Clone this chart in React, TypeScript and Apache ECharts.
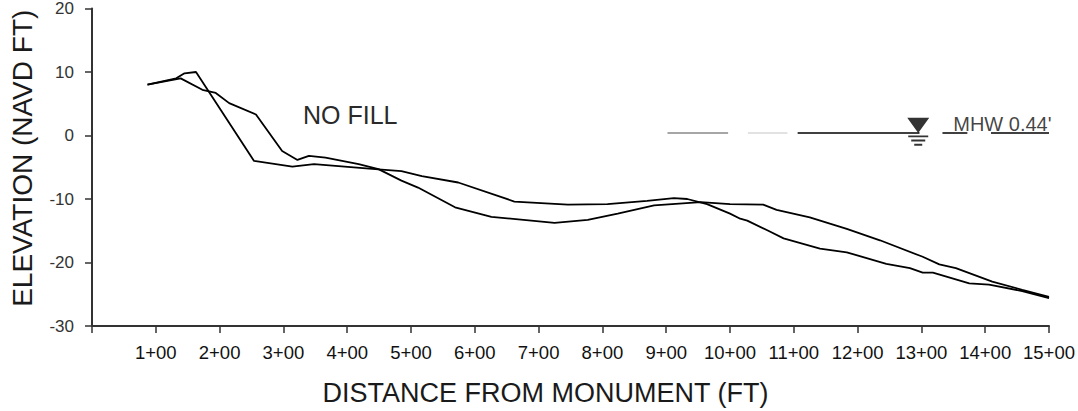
import React, { useEffect, useRef } from "react";
import * as echarts from "echarts";

// Profile A (steep drop near 2+00)
const profileAX = [87, 132, 145, 163, 254, 314, 348, 444, 485, 517, 574, 662, 746, 808, 870, 912, 933, 964, 1000, 1016, 1027, 1060, 1084, 1141, 1183, 1245, 1282, 1302, 1318, 1375, 1406, 1458, 1500];
const profileAY = [8.0, 9.0, 9.8, 10.0, -4.0, -4.9, -4.5, -5.3, -5.6, -6.4, -7.4, -10.4, -10.9, -10.8, -10.3, -9.85, -10.0, -10.8, -12.3, -13.1, -13.4, -15.0, -16.2, -17.8, -18.4, -20.2, -20.9, -21.6, -21.6, -23.3, -23.5, -24.5, -25.6];

// Profile B (gradual slope)
const profileBX = [87, 139, 173, 194, 215, 257, 298, 322, 340, 366, 418, 449, 485, 511, 569, 626, 725, 777, 824, 881, 954, 1000, 1052, 1073, 1125, 1183, 1235, 1302, 1328, 1354, 1411, 1458, 1500];
const profileBY = [8.0, 9.0, 7.2, 6.7, 5.1, 3.3, -2.45, -3.85, -3.2, -3.5, -4.5, -5.3, -7.1, -8.2, -11.3, -12.8, -13.75, -13.3, -12.3, -11.0, -10.5, -10.8, -10.9, -11.7, -12.9, -14.7, -16.5, -19.1, -20.3, -20.9, -23.0, -24.3, -25.4];

// Mean high water
const mhwLevel = 0.44;
const mhwBlackSegments = [[1106, 1297], [1333, 1372], [1409, 1500]];
const mhwGraySegments = [[902, 997]];
const mhwFaintSegments = [[1028, 1090]];
const mhwSymbolX = 1295;

const yTicks = { min: -30, max: 20, interval: 10 };
const xTicks = { min: 0, max: 1500, interval: 100 };

const FONT = "'Liberation Sans', Arial, sans-serif";

export default function App() {
  const ref = useRef<HTMLDivElement>(null);

  useEffect(() => {
    document.body.style.margin = "0";
    const chart = echarts.init(ref.current!, null, { renderer: "svg" });
    const seg = (s: number[][]) => s.map(([a, b]) => ({ coords: [[a, mhwLevel], [b, mhwLevel]] }));
    const option: any = {
      animation: false,
      backgroundColor: "#ffffff",
      grid: { left: 89, right: 28, top: 8, bottom: 84 },
      xAxis: {
        type: "value",
        min: xTicks.min,
        max: xTicks.max,
        interval: xTicks.interval,
        name: "DISTANCE FROM MONUMENT (FT)",
        nameLocation: "middle",
        nameGap: 53,
        nameTextStyle: { fontSize: 27, color: "#1a1a1a", fontFamily: FONT, padding: [0, 50, 0, 0] },
        axisLine: { onZero: false, lineStyle: { color: "#333", width: 2 } },
        axisTick: { length: 7, lineStyle: { color: "#333", width: 1.5 } },
        axisLabel: {
          fontSize: 18.5,
          color: "#111",
          fontFamily: FONT,
          margin: 17,
          formatter: (v: number) => (v === 0 ? "" : `${v / 100}+00`),
        },
        splitLine: { show: false },
      },
      yAxis: {
        type: "value",
        min: yTicks.min,
        max: yTicks.max,
        interval: yTicks.interval,
        name: "ELEVATION (NAVD FT)",
        nameLocation: "middle",
        nameGap: 56,
        nameRotate: 90,
        nameTextStyle: { fontSize: 28, color: "#1a1a1a", fontFamily: FONT, padding: [0, 0, 0, 18] },
        axisLine: { lineStyle: { color: "#333", width: 2 } },
        axisTick: { length: 7, lineStyle: { color: "#333", width: 1.5 } },
        axisLabel: { fontSize: 17, color: "#333", fontFamily: FONT, margin: 18 },
        splitLine: { show: false },
      },
      series: [
        {
          type: "line",
          data: profileAX.map((x, i) => [x, profileAY[i]]),
          showSymbol: false,
          lineStyle: { color: "#000", width: 1.8 },
        },
        {
          type: "line",
          data: profileBX.map((x, i) => [x, profileBY[i]]),
          showSymbol: false,
          lineStyle: { color: "#000", width: 1.8 },
        },
        {
          type: "lines",
          coordinateSystem: "cartesian2d",
          data: seg(mhwBlackSegments),
          lineStyle: { color: "#000", width: 1.5, opacity: 1 },
        },
        {
          type: "lines",
          coordinateSystem: "cartesian2d",
          data: seg(mhwGraySegments),
          lineStyle: { color: "#888", width: 1.5, opacity: 1 },
        },
        {
          type: "lines",
          coordinateSystem: "cartesian2d",
          data: seg(mhwFaintSegments),
          lineStyle: { color: "#d8d8d8", width: 1.5, opacity: 1 },
        },
        {
          type: "scatter",
          data: [[mhwSymbolX, mhwLevel]],
          symbol:
            "path://M0,0 L22,0 L11,15 Z M1,17.5 L21,17.5 L21,19.3 L1,19.3 Z M4,21.5 L18,21.5 L18,23.3 L4,23.3 Z M7,25.5 L15,25.5 L15,27.5 L7,27.5 Z",
          symbolSize: [22, 28],
          symbolOffset: [0, -1],
          itemStyle: { color: "#000" },
          label: {
            show: true,
            position: "right",
            distance: 24,
            offset: [0, -8],
            formatter: "MHW 0.44'",
            fontSize: 20,
            color: "#111",
            fontFamily: FONT,
          },
        },
      ],
      graphic: [
        {
          type: "text",
          left: 303,
          top: 102,
          style: { text: "NO FILL", fontSize: 25, fill: "#2a2a2a", fontFamily: FONT },
        },
      ],
    };
    chart.setOption(option);
    return () => chart.dispose();
  }, []);

  return <div ref={ref} style={{ position: "fixed", left: 0, top: 0, width: 1078, height: 411 }} />;
}
